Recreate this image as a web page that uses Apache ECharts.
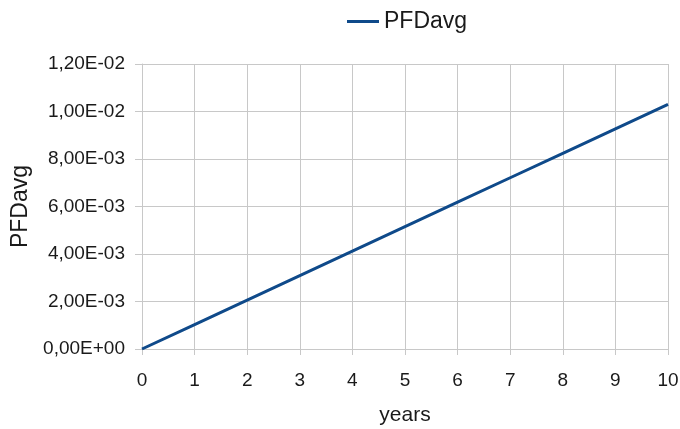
<!DOCTYPE html>
<html>
<head>
<meta charset="utf-8">
<script src="https://cdn.jsdelivr.net/npm/echarts@6/dist/echarts.min.js"></script>
<style>
  html, body { margin: 0; padding: 0; background: #fff; }
  #chart { width: 680px; height: 429px; }
</style>
</head>
<body>
<div id="chart"></div>
<script>
// data
const years = [0, 1, 2, 3, 4, 5, 6, 7, 8, 9, 10]
const pfdAvg = [0, 0.00103, 0.00206, 0.00309, 0.00412, 0.00515, 0.00618, 0.00721, 0.00824, 0.00927, 0.0103]

// 1,20E-02 style labels
function sci(v) {
    if (Math.abs(v) < 1e-12) return '0,00E+00'
    let e = Math.floor(Math.log10(Math.abs(v)) + 1e-9)
    let m = v / Math.pow(10, e)
    const sign = e < 0 ? '-' : '+'
    const ea = String(Math.abs(e)).padStart(2, '0')
    return m.toFixed(2).replace('.', ',') + 'E' + sign + ea
}

const font = 'Liberation Sans, Arial, sans-serif'
const gray = '#c8c8c8'
const txt = '#1a1a1a'

const myChart = echarts.init(document.querySelector('#chart'))
const option = {
    animation: false,
    textStyle: { fontFamily: font },
    legend: {
        top: 5,
        left: 342,
        itemWidth: 32,
        itemHeight: 3,
        icon: 'rect',
        textStyle: { fontSize: 23, color: txt, fontFamily: font },
        data: ['PFDavg']
    },
    grid: { left: 142, right: 12, top: 64, bottom: 80, outerBoundsMode: 'none' },
    xAxis: {
        type: 'value',
        min: 0,
        max: 10,
        interval: 1,
        name: 'years',
        nameLocation: 'middle',
        nameGap: 56,
        nameTextStyle: { fontSize: 21, color: txt },
        axisLine: { lineStyle: { color: gray } },
        axisTick: { show: true, length: 6, lineStyle: { color: gray } },
        axisLabel: { fontSize: 19, color: txt, margin: 22 },
        splitLine: { show: true, lineStyle: { color: gray, width: 1 } }
    },
    yAxis: {
        type: 'value',
        min: 0,
        max: 0.012,
        interval: 0.002,
        name: 'PFDavg',
        nameLocation: 'middle',
        nameGap: 110,
        nameTextStyle: { fontSize: 23, color: txt },
        axisLine: { show: true, lineStyle: { color: gray } },
        axisTick: { show: true, length: 7, lineStyle: { color: gray } },
        axisLabel: { fontSize: 19, color: txt, margin: 17, formatter: sci },
        splitLine: { show: true, lineStyle: { color: gray, width: 1 } }
    },
    series: [
        {
            name: 'PFDavg',
            type: 'line',
            data: years.map((x, i) => [x, pfdAvg[i]]),
            showSymbol: false,
            lineStyle: { color: '#0f4a8a', width: 3 },
            itemStyle: { color: '#0f4a8a' }
        }
    ]
}
myChart.setOption(option)
</script>
</body>
</html>
